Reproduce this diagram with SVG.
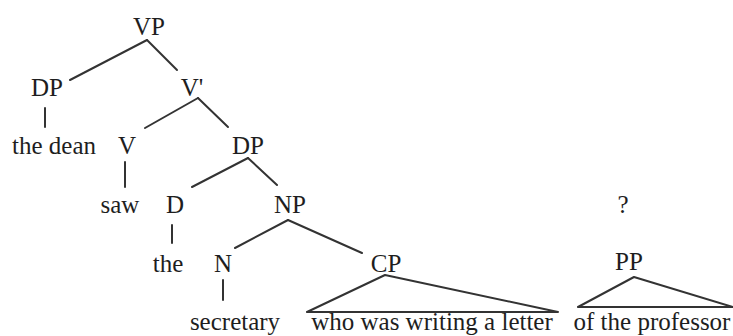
<svg xmlns="http://www.w3.org/2000/svg" width="733" height="336" viewBox="0 0 733 336">
  <style>
    .lbl { font-size: 25px; fill: #1e1e1e; text-anchor: middle; }
    .edge { stroke: #333; stroke-width: 2; fill: none; stroke-linecap: round; stroke-linejoin: round; }
  </style>
  <rect width="733" height="336" fill="#ffffff"/>

  <!-- branches -->
  <g id="connectors">
    <line class="edge" x1="147" y1="40" x2="70" y2="80"/>
    <line class="edge" x1="147" y1="40" x2="177" y2="70"/>
    <line class="edge" x1="45" y1="108" x2="45" y2="127"/>
    <line class="edge" x1="198" y1="98" x2="145" y2="128"/>
    <line class="edge" x1="198" y1="98" x2="228" y2="127"/>
    <line class="edge" x1="125" y1="162" x2="125" y2="187"/>
    <line class="edge" x1="248" y1="158" x2="192" y2="187"/>
    <line class="edge" x1="248" y1="158" x2="277" y2="185"/>
    <line class="edge" x1="172" y1="225" x2="172" y2="243"/>
    <line class="edge" x1="288" y1="220" x2="235" y2="248"/>
    <line class="edge" x1="288" y1="220" x2="362" y2="253"/>
    <line class="edge" x1="223" y1="280" x2="223" y2="300"/>
    <!-- roof over the CP phrase -->
    <polygon class="edge" points="385,275 307,312 558,312"/>
    <!-- roof over the PP phrase -->
    <polygon class="edge" points="634,277 578,307 733,307"/>
  </g>

  <g font-family="Liberation Serif, Times New Roman, Tinos, Noto Serif, DejaVu Serif, serif">
  <g id="VP"><text class="lbl" x="149" y="35">VP</text></g>
  <g id="DP-subj"><text class="lbl" x="47" y="96">DP</text></g>
  <g id="V-bar"><text class="lbl" x="192" y="96">V'</text></g>
  <g id="the-dean"><text class="lbl" x="54" y="154">the dean</text></g>
  <g id="V"><text class="lbl" x="127" y="154">V</text></g>
  <g id="DP-obj"><text class="lbl" x="248" y="154">DP</text></g>
  <g id="saw"><text class="lbl" x="120" y="213">saw</text></g>
  <g id="D"><text class="lbl" x="175" y="213">D</text></g>
  <g id="NP"><text class="lbl" x="290" y="213">NP</text></g>
  <g id="question"><text class="lbl" x="623" y="213">?</text></g>
  <g id="the"><text class="lbl" x="168" y="272">the</text></g>
  <g id="N"><text class="lbl" x="223" y="272">N</text></g>
  <g id="CP"><text class="lbl" x="386" y="272">CP</text></g>
  <g id="PP"><text class="lbl" x="629" y="270">PP</text></g>
  <g id="secretary"><text class="lbl" x="235" y="330">secretary</text></g>
  <g id="cp-words"><text class="lbl" x="432" y="330">who was writing a letter</text></g>
  <g id="pp-words"><text class="lbl" x="652" y="330">of the professor</text></g>
  </g>
</svg>
